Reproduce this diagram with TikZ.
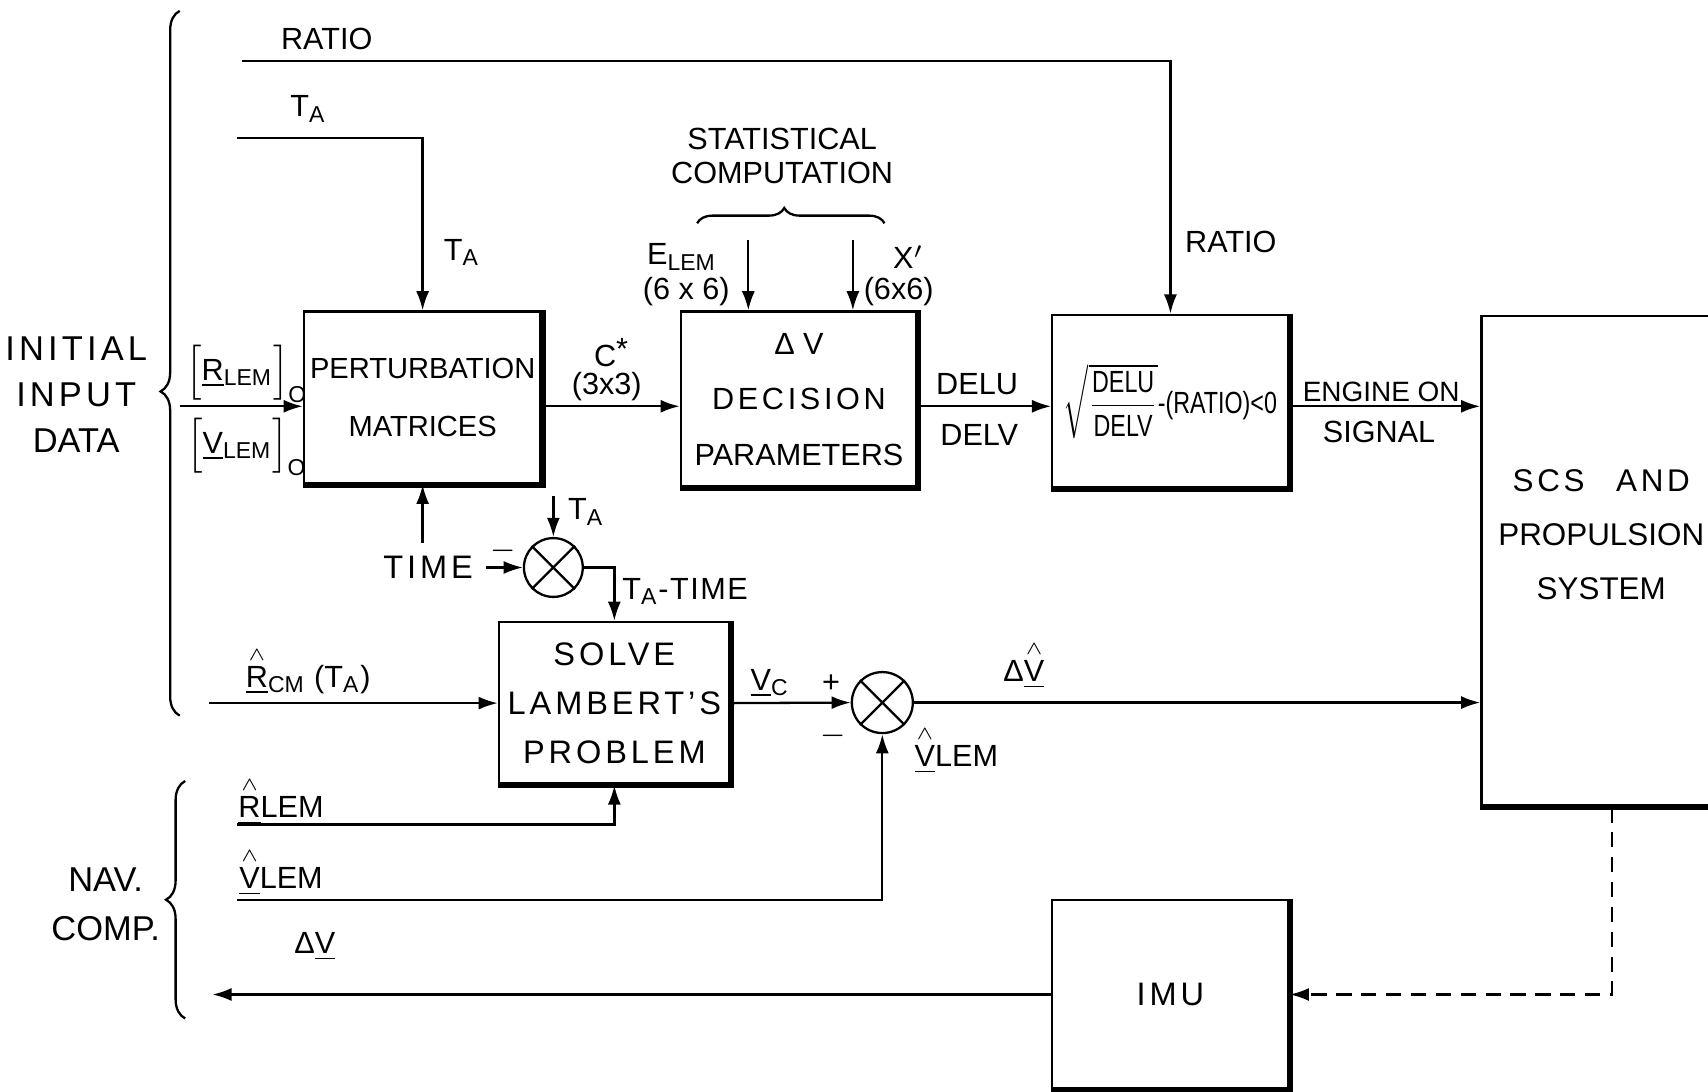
\documentclass[tikz,border=0pt]{standalone}
\usepackage{fontspec}
\setmainfont{Liberation Sans}
\usepackage{amsmath}
\usetikzlibrary{arrows.meta, calc, decorations.pathreplacing}

\newcommand{\TA}{T\textsubscript{A}}
\newcommand{\lem}{\textsubscript{LEM}}
\newcommand{\hatul}[1]{$\overset{\scriptscriptstyle\wedge}{\text{\underline{#1}}}$}
\newcommand{\lsp}[1]{{\addfontfeature{LetterSpace=12}#1}}

\begin{document}
\begin{tikzpicture}[
    x=0.1mm, y=-0.1mm,
    every node/.style={font=\fontsize{8}{10}\selectfont},
    blk/.style={rectangle, draw, semithick, align=center, inner sep=0pt},
    sumj/.style={circle, draw, semithick, inner sep=0pt},
    arrow/.style={->, >={Latex[length=5pt,width=3.4pt]}, semithick},
    brc/.style={decorate, semithick}
]
    \useasboundingbox (0,0) rectangle (1568,1002);
    \clip (0,0) rectangle (1568,1002);

    % blocks
    \node[blk, minimum width=21.8mm, minimum height=15.8mm, font=\fontsize{7.6}{15}\selectfont] (pert) at (388,365) {PERTURBATION\\MATRICES};
    \node[blk, minimum width=21.7mm, minimum height=16.1mm, font=\fontsize{8}{14.5}\selectfont] (dvp) at (733.5,366.5) {Δ V\\\lsp{DECISION}\\PARAMETERS};
    \node[blk, minimum width=21.7mm, minimum height=15.9mm, font=\fontsize{8}{9}\selectfont] (ratiobox) at (1074.5,368.5) {\scalebox{0.76}[1]{$\sqrt{\dfrac{\text{DELU}}{\text{DELV}}}$-(RATIO)<0}};
    \node[blk, minimum width=24mm, minimum height=45mm] (scs) at (1480,515) {};
    \node[align=center, font=\fontsize{8.2}{14.2}\selectfont] (scstext) at (1470,491) {\lsp{SCS\quad AND}\\PROPULSION\\SYSTEM};
    \node[blk, minimum width=21.7mm, minimum height=17.4mm, font=\fontsize{8.5}{10}\selectfont] (imu) at (1074.5,913) {\lsp{IMU}};
    \node[blk, minimum width=21.2mm, minimum height=14.9mm, font=\fontsize{8.5}{12.8}\selectfont] (lambert) at (564,645.5) {\lsp{SOLVE}\\\lsp{LAMBERT'S}\\\lsp{PROBLEM}};
    \node[sumj, minimum size=5.4mm] (s1) at (508,521) {};
    \node[sumj, minimum size=5.6mm] (s2) at (810,645) {};
    \node[font=\fontsize{8.5}{10}\selectfont] (time) at (393,521) {\lsp{TIME}};

    \foreach \n in {pert,dvp,ratiobox,lambert,imu,scs}
        \draw[line width=1.6pt] (\n.north east) -- (\n.south east) -- (\n.south west);
    \foreach \s in {s1,s2}
        \draw[semithick] (\s.north west) -- (\s.south east) (\s.north east) -- (\s.south west);

    % free ends
    \coordinate (ratioin) at (222,56);
    \coordinate (tain) at (218,127);
    \coordinate (inpin) at (165,373);
    \coordinate (elemtop) at (687,220);
    \coordinate (xtop) at (783,220);
    \coordinate (tatop) at (508,455);
    \coordinate (rcmin) at (192,645.5);
    \coordinate (rlemin) at (218,757);
    \coordinate (vlemin) at (218,826);
    \coordinate (dvout) at (195,913);

    % connectors
    \draw[arrow] (ratioin) -| (ratiobox.north);
    \draw[arrow] (tain) -| (pert.north);
    \draw[arrow] (inpin) -- (inpin -| pert.west);
    \draw[arrow] (pert.east |- inpin) -- (dvp.west |- inpin);
    \draw[arrow] (dvp.east |- inpin) -- (ratiobox.west |- inpin);
    \draw[arrow] (ratiobox.east |- inpin) -- (scs.west |- inpin);
    \draw[arrow] (elemtop) -- (elemtop |- dvp.north);
    \draw[arrow] (xtop) -- (xtop |- dvp.north);
    \draw[arrow] (pert.south |- time.north) -- (pert.south);
    \draw[arrow] (time.east) -- (s1.west);
    \draw[arrow] (tatop) -- (s1.north);
    \draw[arrow] (s1.east) -| (lambert.north);
    \draw[arrow] (rcmin) -- (lambert.west);
    \draw[arrow] (lambert.east) -- (s2.west);
    \draw[arrow] (s2.east) -- (scs.west |- s2.east);
    \draw[arrow] (rlemin) -| (lambert.south);
    \draw[arrow] (vlemin) -| (s2.south);
    \draw[arrow] (imu.west) -- (dvout);
    \draw[arrow, dash pattern=on 4pt off 2.5pt] (scs.south) |- (imu.east);

    % braces
    \draw[brc, decoration={brace, amplitude=5pt, aspect=0.46}] (165,657) -- (165,10);
    \draw[brc, decoration={brace, amplitude=5pt, aspect=0.5}] (170,935) -- (170,717);
    \draw[brc, decoration={brace, amplitude=4pt, aspect=0.465}] (640,205) -- (812,205);

    % labels
    \node[align=center, font=\fontsize{9}{12}\selectfont] (initial) at (70,362) {\lsp{INITIAL}\\\lsp{INPUT}\\DATA};
    \node[align=center, font=\fontsize{9}{12.8}\selectfont] (nav) at (97,830) {NAV.\\COMP.};
    \node (ratiolbl) at (300,36) {RATIO};
    \node (talbl) at (283,100) {\TA};
    \node (talblb) at (424,232) {\TA};
    \node (ratiolblb) at (1130,222) {RATIO};
    \node[align=center, font=\fontsize{8}{9}\selectfont] (stat) at (718,143) {STATISTICAL\\COMPUTATION};
    \node (elem) at (626,236) {E\lem};
    \node (elemdim) at (630,268) {(6 x 6)};
    \node (xp) at (834,236) {X$'$};
    \node (xpdim) at (825,268) {(6x6)};
    \node (rlem0) at (227,343) {$\Bigl[\text{\underline{R}\lem}\Bigr]_{\text{O}}$};
    \node (vlem0) at (227,410) {$\Bigl[\text{\underline{V}\lem}\Bigr]_{\text{O}}$};
    \node (cstar) at (561,324) {C\raisebox{.45ex}{*}};
    \node (cdim) at (557,355) {(3x3)};
    \node (delu) at (897,353) {DELU};
    \node (delv) at (899,399) {DELV};
    \node[font=\fontsize{7.3}{9}\selectfont] (engine) at (1268,360) {ENGINE ON};
    \node (signal) at (1266,397) {SIGNAL};
    \node (minus1) at (462,506) {$-$};
    \node (tasum) at (538,470) {\TA};
    \node (tatime) at (629,543) {{\addfontfeature{LetterSpace=5}\TA-TIME}};
    \node (rcm) at (283,615) {\hatul{R}\textsubscript{CM} (\TA)};
    \node (vc) at (707,627) {\underline{V}\textsubscript{C}};
    \node (plus2) at (763,628) {+};
    \node (minus2) at (765,676) {$-$};
    \node (dvhat) at (940,610) {Δ\hatul{V}};
    \node (vlemhat) at (878,688) {\hatul{V}LEM};
    \node (rlemhat) at (258,735) {\hatul{R}LEM};
    \node (vlemhatb) at (258,800) {\hatul{V}LEM};
    \node (dvnav) at (289,869) {Δ\underline{V}};
\end{tikzpicture}
\end{document}
